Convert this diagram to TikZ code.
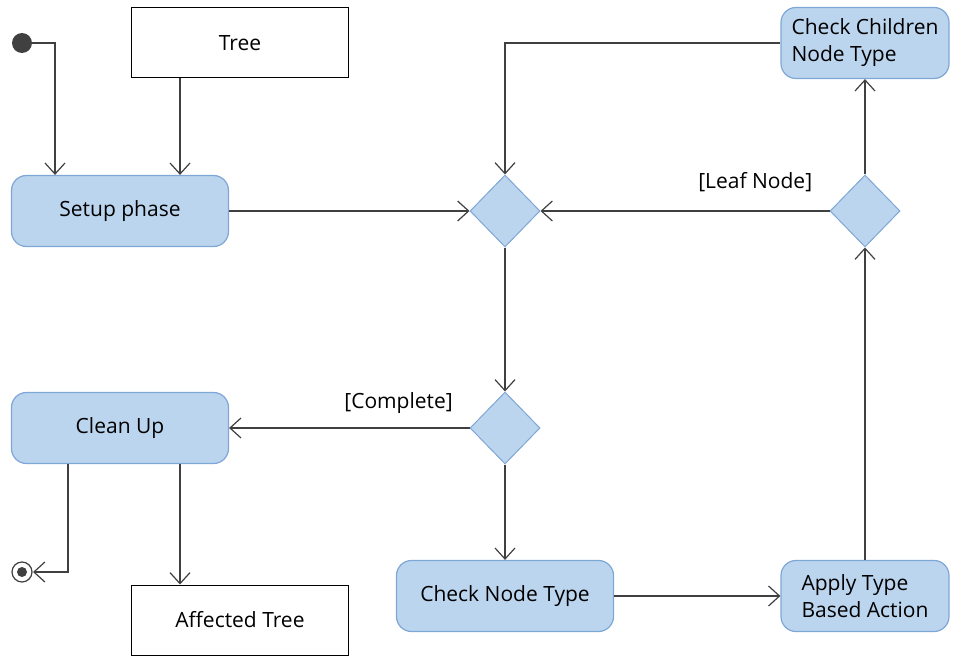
\documentclass[tikz,border=0pt]{standalone}
\usepackage{fontspec}
\setmainfont{Open Sans}
\usetikzlibrary{arrows.meta,shapes.geometric}
\definecolor{actfill}{HTML}{BCD5EE}
\definecolor{actdraw}{HTML}{7EA6D6}
\definecolor{flowline}{HTML}{404040}
\tikzset{
  action/.style={draw=actdraw, fill=actfill, line width=1.2pt, rounded corners=15pt,
    minimum width=217pt, minimum height=71pt, inner sep=4pt, font=\fontsize{21}{27}\selectfont},
  action2/.style={action, minimum width=168pt, align=left},
  objbox/.style={draw=black, line width=1pt, fill=white, minimum width=217pt,
    minimum height=70pt, font=\fontsize{21}{27}\selectfont},
  decide/.style={diamond, draw=actdraw, fill=actfill, line width=1pt, inner sep=0pt,
    minimum width=70pt, minimum height=72pt},
  flow/.style={draw=flowline, line width=1.4pt, -{Straight Barb[length=11pt,width=20pt,line width=1.2pt]}},
  guard/.style={font=\fontsize{21}{27}\selectfont, inner sep=0pt}
}
\begin{document}
\begin{tikzpicture}[x=1pt, y=-1pt]
    \useasboundingbox (0,0) rectangle (956,658);

    % Start and end
    \fill[flowline] (22,43) circle (10pt);
    \coordinate (start) at (32,43);
    \draw[flowline, line width=1.2pt] (22,572) circle (10pt);
    \fill[flowline] (22,572) circle (5pt);
    \coordinate (stop) at (33,572);

    % Objects
    \node[objbox] (tree) at (240,43) {Tree};
    \node[objbox] (affected) at (240,620) {Affected Tree};

    % Actions
    \node[action] (setup) at (120,211) {Setup phase};
    \node[action] (cleanup) at (120,428) {Clean Up};
    \node[action] (checknode) at (505,596) {Check Node Type};
    \node[action2] (apply) at (865,596) {Apply Type\\Based Action};
    \node[action2] (children) at (865,43) {Check Children\\Node Type};

    % Decisions
    \node[decide] (merge) at (505,211) {};
    \node[decide] (complete) at (505,428) {};
    \node[decide] (leaf) at (865,211) {};

    % Flows
    \draw[flow] (start) -| (setup.north -| 55,0);
    \draw[flow] (tree.south -| 180,0) -- (setup.north -| 180,0);
    \draw[flow] (setup) -- (merge);
    \draw[flow] (children.west) -| (merge.north);
    \draw[flow] (leaf) -- node[guard, pos=0.257, yshift=29pt] {[Leaf Node]} (merge);
    \draw[flow] (leaf) -- (children);
    \draw[flow] (merge) -- (complete);
    \draw[flow] (complete) -- node[guard, pos=0.295, yshift=25pt] {[Complete]} (cleanup);
    \draw[flow] (complete) -- (checknode);
    \draw[flow] (checknode) -- (apply);
    \draw[flow] (apply) -- (leaf);
    \draw[flow] (cleanup.south -| 68,0) |- (stop);
    \draw[flow] (cleanup.south -| 180,0) -- (affected.north -| 180,0);
\end{tikzpicture}
\end{document}
